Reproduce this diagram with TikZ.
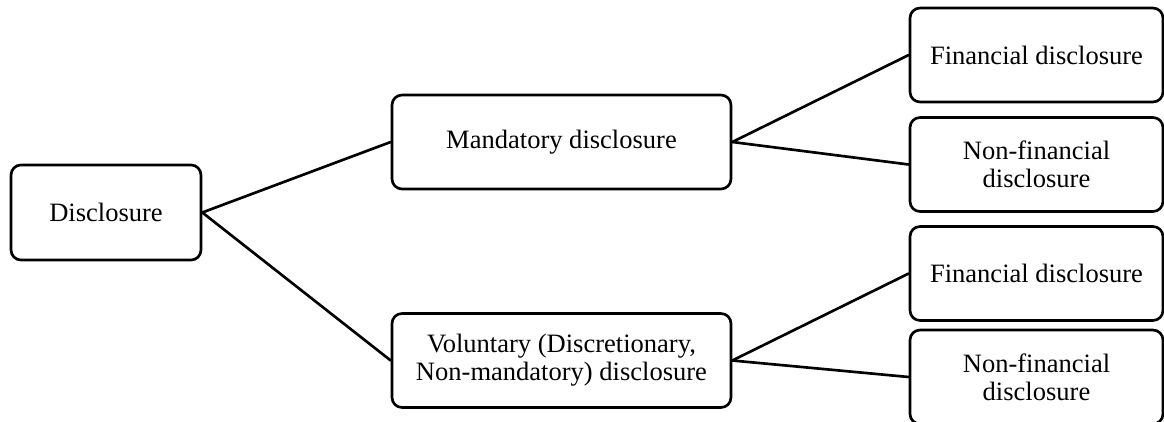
\documentclass[tikz,border=0pt]{standalone}
\usepackage{fontspec}
\setmainfont{Liberation Serif}
\usetikzlibrary{positioning}

\begin{document}
\begin{tikzpicture}[line cap=round,line join=round,x=0.4523pt,y=0.4523pt,
  box/.style={draw=black,line width=1.2pt,rounded corners=4.5pt,align=center,inner sep=0pt,font=\fontsize{12}{12.6}\selectfont},
  rootbox/.style={box,minimum width=85.9pt,minimum height=43pt},
  midbox/.style={box,minimum width=153.3pt,minimum height=42.5pt},
  leafbox/.style={box,minimum width=114.4pt,minimum height=42.5pt},
  link/.style={line width=1.2pt}]
\useasboundingbox (0,0) rectangle (1164,421);
\clip (0,0) rectangle (1164,421);

% tree of boxes
\node[rootbox] (disc) at (106,208.5) {Disclosure};
\node[midbox] (mand) at (561.5,279) {Mandatory disclosure};
\node[midbox] (vol) at (561.5,60.5) {Voluntary (Discretionary,\\Non-mandatory) disclosure};
\node[leafbox] (mfin) at (1036.5,366) {Financial disclosure};
\node[leafbox] (mnon) at (1036.5,256.5) {Non-financial\\disclosure};
\node[leafbox] (vfin) at (1036.5,147.5) {Financial disclosure};
\node[leafbox] (vnon) at (1036.5,44) {Non-financial\\disclosure};

% links
\draw[link] (disc.east) -- (mand.west);
\draw[link] (disc.east) -- (vol.west);
\draw[link] (mand.east) -- (mfin.west);
\draw[link] (mand.east) -- (mnon.west);
\draw[link] (vol.east) -- (vfin.west);
\draw[link] (vol.east) -- (vnon.west);
\end{tikzpicture}
\end{document}
